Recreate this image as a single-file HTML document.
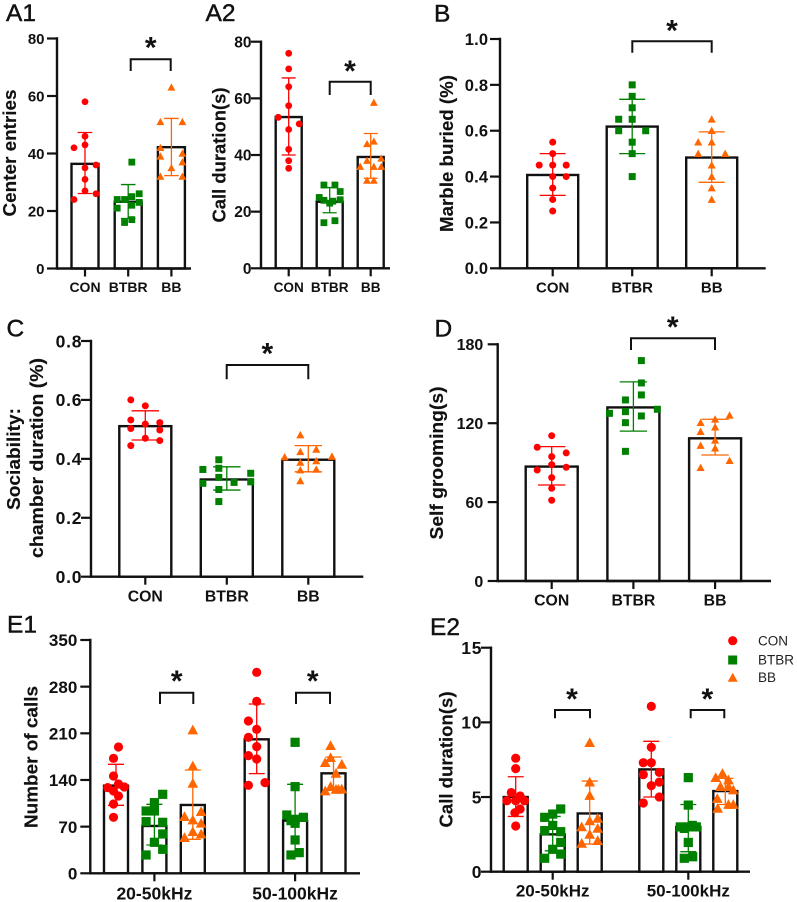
<!DOCTYPE html>
<html lang="en">
<head>
<meta charset="utf-8">
<title>Behavioral test bar charts</title>
<style>
html,body{margin:0;padding:0;background:#fff;width:797px;height:902px;overflow:hidden}
svg{display:block;filter:blur(.3px)}
text{font-family:"Liberation Sans",Arial,sans-serif;fill:#111}
.letter{font-size:24.5px;stroke:#111;stroke-width:.45px}
.title{font-size:18.5px;font-weight:bold;stroke:#111;stroke-width:.15px}
.star{font-size:30px;font-weight:bold;text-anchor:middle}
.bracket{fill:none;stroke:#111;stroke-width:2}
.legend-text{font-size:13.5px;fill:#222}
</style>
</head>
<body>
<svg id="figure" width="797" height="902" viewBox="0 0 797 902">
  <rect width="797" height="902" fill="#fff"/>

  <text class="letter" x="6" y="21">A1</text>
  <text class="letter" x="205.5" y="21">A2</text>
  <text class="letter" x="434" y="21.5">B</text>
  <text class="letter" x="6.5" y="336.5">C</text>
  <text class="letter" x="434.5" y="336.5">D</text>
  <text class="letter" x="7" y="632.5">E1</text>
  <text class="letter" x="430" y="635">E2</text>

  <text class="title" transform="translate(16,153) rotate(-90)" text-anchor="middle" textLength="127" lengthAdjust="spacingAndGlyphs">Center entries</text>
  <text class="title" transform="translate(225.5,155) rotate(-90)" text-anchor="middle" textLength="135" lengthAdjust="spacingAndGlyphs">Call duration(s)</text>
  <text class="title" transform="translate(453,153.5) rotate(-90)" text-anchor="middle" textLength="157" lengthAdjust="spacingAndGlyphs">Marble buried (%)</text>
  <text class="title" transform="translate(20,459) rotate(-90)" text-anchor="middle" textLength="102" lengthAdjust="spacingAndGlyphs">Sociability:</text>
  <text class="title" transform="translate(43,458) rotate(-90)" text-anchor="middle" textLength="200" lengthAdjust="spacingAndGlyphs">chamber duration (%)</text>
  <text class="title" transform="translate(443,463) rotate(-90)" text-anchor="middle" textLength="153" lengthAdjust="spacingAndGlyphs">Self grooming(s)</text>
  <text class="title" transform="translate(37.5,757) rotate(-90)" text-anchor="middle" textLength="142" lengthAdjust="spacingAndGlyphs">Number of calls</text>
  <text class="title" transform="translate(452.5,759.5) rotate(-90)" text-anchor="middle" textLength="136" lengthAdjust="spacingAndGlyphs">Call duration(s)</text>

  <g id="plots"></g>

  <path class="bracket" d="M130.7 71V59.3H170.7V71"/>
  <text class="star" x="150.7" y="57.5">*</text>
  <path class="bracket" d="M329.7 95V81.7H370.7V95"/>
  <text class="star" x="350" y="81">*</text>
  <path class="bracket" d="M632.3 52.7V41.3H711.7V52.7"/>
  <text class="star" x="672" y="40.5">*</text>
  <path class="bracket" d="M226.7 379.3V365H308.3V379.3"/>
  <text class="star" x="267.3" y="363.5">*</text>
  <path class="bracket" d="M631 350V338.3H715V350"/>
  <text class="star" x="672.7" y="337">*</text>
  <path class="bracket" d="M160 704V692.7H193.3V704"/>
  <text class="star" x="176.7" y="691">*</text>
  <path class="bracket" d="M296 704V692.7H330V704"/>
  <text class="star" x="312.7" y="691">*</text>
  <path class="bracket" d="M555 718.3V710H590V718.3"/>
  <text class="star" x="572" y="709">*</text>
  <path class="bracket" d="M690.7 718.3V710H724.3V718.3"/>
  <text class="star" x="707.3" y="709">*</text>

  <g>
    <circle cx="732.7" cy="640.7" r="4.6" fill="#ff0000"/>
    <text class="legend-text" x="758" y="645.5">CON</text>
    <rect x="728.2" y="655.5" width="9" height="9" fill="#008000"/>
    <text class="legend-text" x="758" y="664.5">BTBR</text>
    <polygon points="732.7,672.7 737.7,681.7 727.7,681.7" fill="#ff6600"/>
    <text class="legend-text" x="758" y="682">BB</text>
  </g>
</svg>

<script>
// Panel A1: center entries
const a1XLabels = ['CON', 'BTBR', 'BB'];
const a1YTickLabels = ['0', '20', '40', '60', '80'];
const a1Means = [36.4, 23.2, 42.2];
const a1ErrorHigh = [47.3, 29.2, 52.2];
const a1ErrorLow = [26.1, 17.4, 32.3];
const a1ConValues = [58, 46, 43, 42, 36, 35, 31, 27, 26, 24];
const a1ConSlots = [0, 0, 0, -1, 1, 0, 0, 0, 1, -1];
const a1BtbrValues = [37, 26, 25, 24, 24, 23, 22, 21, 17, 16];
const a1BtbrSlots = [0.33, 1, 0.33, -1, -0.33, 1, 0.33, -1, 0.33, -0.33];
const a1BbValues = [63, 51, 51, 42, 40, 39, 37, 35, 32, 32];
const a1BbSlots = [0, -1, 1, -1, 1, -1, 1, 0, -1, 1];

// Panel A2: call duration
const a2XLabels = ['CON', 'BTBR', 'BB'];
const a2YTickLabels = ['0', '20', '40', '60', '80'];
const a2Means = [53.4, 23.5, 39.3];
const a2ErrorHigh = [67.2, 28.5, 47.6];
const a2ErrorLow = [40, 19.6, 31.8];
const a2ConValues = [75.9, 70.4, 64.1, 57.4, 53.3, 51, 49, 42, 38, 35.3];
const a2ConSlots = [0, 0, 0, 0, -1, 1, 0, 0, 0, 0];
const a2BtbrValues = [29.4, 29.4, 27.1, 25, 24.2, 24, 23.7, 23, 16.8, 16.1];
const a2BtbrSlots = [-0.55, 0.5, 1, -1, 1, -0.55, 0.3, 0, 0.5, -0.55];
const a2BbValues = [58.5, 44.8, 43.9, 38.8, 38, 35.9, 35.9, 35.9, 31, 31];
const a2BbSlots = [0.3, 0.3, -0.35, 1, -0.35, -1, 0.3, 1, -0.35, 0.3];

// Panel B: marble burying
const bXLabels = ['CON', 'BTBR', 'BB'];
const bYTickLabels = ['0.0', '0.2', '0.4', '0.6', '0.8', '1.0'];
const bMeans = [0.407, 0.618, 0.483];
const bErrorHigh = [0.5, 0.737, 0.595];
const bErrorLow = [0.318, 0.5, 0.375];
const bConValues = [0.55, 0.5, 0.45, 0.45, 0.45, 0.4, 0.4, 0.35, 0.3, 0.25];
const bConSlots = [0, 0, -1, 0, 1, 0, 1, 0, 0, 0];
const bBtbrValues = [0.8, 0.75, 0.7, 0.65, 0.65, 0.6, 0.6, 0.55, 0.5, 0.4];
const bBtbrSlots = [0, 0, 0, -1, 0, -1, 1, 0, 0, 0];
const bBbValues = [0.65, 0.6, 0.55, 0.55, 0.5, 0.5, 0.45, 0.4, 0.35, 0.3];
const bBbSlots = [0, 0, -1, 0, -1, 1, 0, 0, 0, 0];

// Panel C: sociability
const cXLabels = ['CON', 'BTBR', 'BB'];
const cYTickLabels = ['0.0', '0.2', '0.4', '0.6', '0.8'];
const cMeans = [0.511, 0.33, 0.397];
const cErrorHigh = [0.563, 0.373, 0.445];
const cErrorLow = [0.464, 0.294, 0.356];
const cConValues = [0.6, 0.58, 0.532, 0.523, 0.518, 0.503, 0.498, 0.47, 0.462, 0.445];
const cConSlots = [-1, 0, -1, 1, 0, -1, 1, 0, 1, -1];
const cBtbrValues = [0.397, 0.368, 0.364, 0.351, 0.337, 0.322, 0.32, 0.317, 0.296, 0.255];
const cBtbrSlots = [-0.55, -0.55, -1.65, 1.65, -0.55, 1.65, 0.5, -1.65, -0.55, -0.55];
const cBbValues = [0.481, 0.432, 0.424, 0.408, 0.406, 0.393, 0.388, 0.364, 0.362, 0.325];
const cBbSlots = [-0.55, 0.55, -0.55, 1.63, -1.63, 0.55, -0.55, 0.55, -0.55, -0.55];

// Panel D: self grooming
const dXLabels = ['CON', 'BTBR', 'BB'];
const dYTickLabels = ['0', '60', '120', '180'];
const dMeans = [87, 132, 108.5];
const dErrorHigh = [102.2, 151.4, 123];
const dErrorLow = [73, 114, 95.8];
const dConValues = [110.5, 101.7, 97.4, 94.6, 88.5, 86.5, 84.4, 78.6, 70.5, 61.4];
const dConSlots = [0, -1, 1, 0, 0, 1, -1, 0, 0, 0];
const dBtbrValues = [167.6, 150.6, 141.5, 137.7, 130.6, 128.8, 127.5, 125.5, 120.4, 98.6];
const dBtbrSlots = [0.55, 0.55, 0.55, -0.55, 1.65, -0.55, -1.65, 0.55, -0.55, -0.55];
const dBbValues = [126, 123, 120.4, 117, 113.6, 107, 103, 101, 91.5, 86.2];
const dBbSlots = [1, 0, -1, 0, -1, 0, -1, 0, 1, -1];

// Panel E1: number of calls
const e1XLabels = ['20-50kHz', '50-100kHz'];
const e1YTickLabels = ['0', '70', '140', '210', '280', '350'];
const e1Means = [131.5, 71, 102.5, 201, 79, 150];
const e1ErrorHigh = [163.5, 103.5, 155, 254, 133.5, 174.5];
const e1ErrorLow = [102, 42.5, 51, 149.5, 27.5, 125];
const e1ConLowValues = [189.5, 172.5, 146, 134, 129.5, 128.5, 123.5, 116, 104, 84];
const e1ConLowSlots = [0.3, -0.3, -0.3, 0.3, 1, -1, -0.3, 0.3, -0.3, -0.3];
const e1BtbrLowValues = [118.5, 106, 93.5, 93.5, 77.5, 76.5, 59, 46.5, 36, 27.5];
const e1BtbrLowSlots = [1, 0, -1, 0, -1, 1, 1, 0, 1, -1];
const e1BbLowValues = [215, 161, 135, 92.5, 85, 80, 75, 62.5, 59, 53.5];
const e1BbLowSlots = [0, 0, 0, 1, -1, 0, 1, 0, 1, -1];
const e1ConHighValues = [301.5, 258, 228.5, 216, 204, 190, 176.5, 171.5, 136, 132];
const e1ConHighSlots = [0, 0, -1, 0, -1, 0, -1, 0, 1, -1];
const e1BtbrHighValues = [196.5, 130, 87.5, 84, 81, 79, 75, 50, 31, 27.5];
const e1BtbrHighSlots = [0, 0, -1, 1, 0, -0.5, 0, 0, 0.5, -0.5];
const e1BbHighValues = [191.5, 173.5, 166, 163.5, 150, 130, 126.5, 126, 123.5, 126];
const e1BbHighSlots = [-0.35, -0.35, -1, 1, 0.3, -0.35, 1, 0.3, -1, 0.6];

// Panel E2: call duration by band
const e2XLabels = ['20-50kHz', '50-100kHz'];
const e2YTickLabels = ['0', '5', '10', '15'];
const e2Means = [5, 2.5, 3.9, 6.85, 3, 5.4];
const e2ErrorHigh = [6.36, 3.7, 6.07, 8.73, 4.5, 6.25];
const e2ErrorLow = [3.7, 1.4, 1.85, 5, 1.34, 4.5];
const e2ConLowValues = [7.6, 6.9, 5.3, 5.07, 4.75, 4.75, 4.75, 4.2, 3.95, 3.06];
const e2ConLowSlots = [0, 0, -0.55, 0.55, -1.1, 0, 1.1, 0.55, -0.1, 0];
const e2BtbrLowValues = [4.2, 3.86, 3.64, 3.1, 2.75, 2.68, 1.96, 1.5, 1.18, 0.9];
const e2BtbrLowSlots = [1, 0, -1, 0, -1, 1, 1, 0, 1, -1];
const e2BbLowValues = [8.64, 6, 5.1, 3.57, 3.4, 3, 2.9, 2.5, 2.08, 1.9];
const e2BbLowSlots = [0, 0, 0, 1, 0, -1, 1, 0, 1, -1];
const e2ConHighValues = [11.07, 8.33, 7.3, 7.3, 6.65, 6.5, 6, 5.76, 5, 4.6];
const e2ConHighSlots = [0, 0, -1, 0, 1, -1, 1, 0, 1, -1];
const e2BtbrHighValues = [6.3, 4.46, 3, 3, 3, 2.9, 1.96, 1, 0.9, 3.1];
const e2BtbrHighSlots = [0, 0, -1, 0, 1, -0.5, 0, 0.55, -0.5, 0.5];
const e2BbHighValues = [6.58, 6.3, 6.14, 5.7, 5.7, 5.47, 4.9, 4.5, 4.5, 4.24];
const e2BbHighSlots = [-0.35, -1.2, 0.4, -0.6, 0.4, 1, -1, 0.4, 1, -0.95];

const seriesColors = ['#ff0000', '#008000', '#ff6600'];
const plotsLayer = document.getElementById('plots');
const svgNamespace = document.getElementById('figure').namespaceURI;

function make(tag, parent, attrs) {
  const node = document.createElementNS(svgNamespace, tag);
  for (const key in attrs) node.setAttribute(key, attrs[key]);
  parent.appendChild(node);
  return node;
}

function drawMarker(parent, kind, x, y, size) {
  const color = seriesColors[kind];
  let mark;
  if (kind === 0) {
    mark = make('circle', parent, { cx: x, cy: y, r: size / 2, fill: color });
  } else if (kind === 1) {
    mark = make('rect', parent, { x: x - size / 2, y: y - size / 2, width: size, height: size, fill: color });
  } else {
    const half = size * 0.58;
    const pts = [x, y - half, x + half, y + half * 0.82, x - half, y + half * 0.82].join(' ');
    mark = make('polygon', parent, { points: pts, fill: color });
  }
  return mark;
}

function drawPanel(p) {
  const g = make('g', plotsLayer, {});
  
  

  const tickValues = p.yTickLabels.map(Number);
  const yMax = tickValues[tickValues.length - 1];
  const yScale = v => p.yBottom - (v / yMax) * (p.yBottom - p.yTop);
  const xScale = i => p.start + p.step * (i % 3) + p.groupStep * Math.floor(i / 3);

  // bars
  p.means.forEach((mean, i) => {
    const bar = make('rect', g, {
      x: xScale(i) - p.barHalf, y: yScale(mean), width: p.barHalf * 2,
      height: p.yBottom - yScale(mean), fill: '#fff', stroke: '#111', 'stroke-width': 2.4
    });
    
    
  });

  // axes
  const yAxis = make('line', g, { x1: p.axisX, x2: p.axisX, y1: p.yTop - 1.2, y2: p.yBottom + 1.2, stroke: '#111', 'stroke-width': 2.4 });
  
  
  const xAxis = make('line', g, { x1: p.axisX, x2: p.xEnd, y1: p.yBottom, y2: p.yBottom, stroke: '#111', 'stroke-width': 2.4 });
  
  

  p.yTickLabels.forEach((label, i) => {
    const y = yScale(tickValues[i]);
    const tick = make('line', g, { x1: p.axisX - 10, x2: p.axisX, y1: y, y2: y, stroke: '#111', 'stroke-width': 2.2 });
    
    
    const text = make('text', g, {
      x: p.axisX - p.tickGap, y: y + p.tickFont * 0.36, 'text-anchor': 'end', 'font-weight': 'bold',
      'font-size': p.tickFont, 'letter-spacing': p.tickSpacing
    });
    
    
    text.textContent = label;
  });

  p.xLabels.forEach((label, i) => {
    const center = p.xLabels.length === 3 ? xScale(i) : xScale(i * 3 + 1);
    const tick = make('line', g, { x1: center, x2: center, y1: p.yBottom, y2: p.yBottom + 8, stroke: '#111', 'stroke-width': 2.2 });
    
    
    const text = make('text', g, {
      x: center, y: p.labelY, 'text-anchor': 'middle', 'font-weight': 'bold', 'font-size': p.labelFont
    });
    
    
    text.textContent = label;
  });

  // error bars
  p.means.forEach((mean, i) => {
    const color = seriesColors[i % 3];
    const cx = xScale(i);
    const hi = yScale(p.errorHigh[i]);
    const lo = yScale(p.errorLow[i]);
    const path = 'M' + cx + ' ' + lo + 'V' + hi +
      'M' + (cx - p.capHalf) + ' ' + hi + 'H' + (cx + p.capHalf) +
      'M' + (cx - p.capHalf) + ' ' + lo + 'H' + (cx + p.capHalf);
    const err = make('path', g, { d: path, fill: 'none', stroke: color, 'stroke-width': 1.3 });
    
    
  });

  // points
  p.values.forEach((series, i) => {
    series.forEach((v, j) => {
      const px = xScale(i) + p.slots[i][j] * p.slotWidth;
      const mark = drawMarker(g, i % 3, px, yScale(v), p.marker);
      
      
    });
  });
}

drawPanel({ id: 'a1', axisX: 57, xEnd: 191, yTop: 38.5, yBottom: 268.5, start: 85, step: 43.2, groupStep: 0,
  barHalf: 13.5, capHalf: 7.3, slotWidth: 11, marker: 6.8, tickFont: 15, tickSpacing: 0, tickGap: 12.5, labelFont: 14, labelY: 292,
  xLabels: a1XLabels, yTickLabels: a1YTickLabels, means: a1Means, errorHigh: a1ErrorHigh, errorLow: a1ErrorLow,
  values: [a1ConValues, a1BtbrValues, a1BbValues], slots: [a1ConSlots, a1BtbrSlots, a1BbSlots] });

drawPanel({ id: 'a2', axisX: 261, xEnd: 390, yTop: 41.7, yBottom: 268.3, start: 288.7, step: 41, groupStep: 0,
  barHalf: 13, capHalf: 7, slotWidth: 10.5, marker: 6.8, tickFont: 15.5, tickSpacing: 0, tickGap: 9.5, labelFont: 13.6, labelY: 292,
  xLabels: a2XLabels, yTickLabels: a2YTickLabels, means: a2Means, errorHigh: a2ErrorHigh, errorLow: a2ErrorLow,
  values: [a2ConValues, a2BtbrValues, a2BbValues], slots: [a2ConSlots, a2BtbrSlots, a2BbSlots] });

drawPanel({ id: 'b', axisX: 500, xEnd: 765.7, yTop: 39, yBottom: 268.3, start: 552.7, step: 79.5, groupStep: 0,
  barHalf: 25.5, capHalf: 13, slotWidth: 13.5, marker: 7, tickFont: 16.5, tickSpacing: 0.2, tickGap: 11.7, labelFont: 15, labelY: 292.3,
  xLabels: bXLabels, yTickLabels: bYTickLabels, means: bMeans, errorHigh: bErrorHigh, errorLow: bErrorLow,
  values: [bConValues, bBtbrValues, bBbValues], slots: [bConSlots, bBtbrSlots, bBbSlots] });

drawPanel({ id: 'c', axisX: 91, xEnd: 363.3, yTop: 341, yBottom: 576.7, start: 145.3, step: 81.5, groupStep: 0,
  barHalf: 26, capHalf: 13.7, slotWidth: 14.5, marker: 7, tickFont: 17.5, tickSpacing: 0.8, tickGap: 8.7, labelFont: 15.8, labelY: 601.7,
  xLabels: cXLabels, yTickLabels: cYTickLabels, means: cMeans, errorHigh: cErrorHigh, errorLow: cErrorLow,
  values: [cConValues, cBtbrValues, cBbValues], slots: [cConSlots, cBtbrSlots, cBbSlots] });

drawPanel({ id: 'd', axisX: 497.7, xEnd: 771, yTop: 344.3, yBottom: 581, start: 551.7, step: 81.7, groupStep: 0,
  barHalf: 26, capHalf: 13.7, slotWidth: 14.5, marker: 7, tickFont: 16, tickSpacing: 0, tickGap: 14.4, labelFont: 15.8, labelY: 605.7,
  xLabels: dXLabels, yTickLabels: dYTickLabels, means: dMeans, errorHigh: dErrorHigh, errorLow: dErrorLow,
  values: [dConValues, dBtbrValues, dBbValues], slots: [dConSlots, dBtbrSlots, dBbSlots] });

drawPanel({ id: 'e1', axisX: 90.3, xEnd: 360, yTop: 640, yBottom: 873.3, start: 116, step: 38.4, groupStep: 140.7,
  barHalf: 12, capHalf: 8, slotWidth: 8.3, marker: 9.2, tickFont: 17, tickSpacing: 0, tickGap: 13, labelFont: 17.5, labelY: 899.3,
  xLabels: e1XLabels, yTickLabels: e1YTickLabels, means: e1Means, errorHigh: e1ErrorHigh, errorLow: e1ErrorLow,
  values: [e1ConLowValues, e1BtbrLowValues, e1BbLowValues, e1ConHighValues, e1BtbrHighValues, e1BbHighValues],
  slots: [e1ConLowSlots, e1BtbrLowSlots, e1BbLowSlots, e1ConHighSlots, e1BtbrHighSlots, e1BbHighSlots] });

drawPanel({ id: 'e2', axisX: 491, xEnd: 750, yTop: 647.7, yBottom: 871.7, start: 515.7, step: 37, groupStep: 135.6,
  barHalf: 12, capHalf: 8, slotWidth: 8, marker: 9.2, tickFont: 17.5, tickSpacing: 0.8, tickGap: 8.7, labelFont: 17, labelY: 896.7,
  xLabels: e2XLabels, yTickLabels: e2YTickLabels, means: e2Means, errorHigh: e2ErrorHigh, errorLow: e2ErrorLow,
  values: [e2ConLowValues, e2BtbrLowValues, e2BbLowValues, e2ConHighValues, e2BtbrHighValues, e2BbHighValues],
  slots: [e2ConLowSlots, e2BtbrLowSlots, e2BbLowSlots, e2ConHighSlots, e2BtbrHighSlots, e2BbHighSlots] });
</script>
</body>
</html>
